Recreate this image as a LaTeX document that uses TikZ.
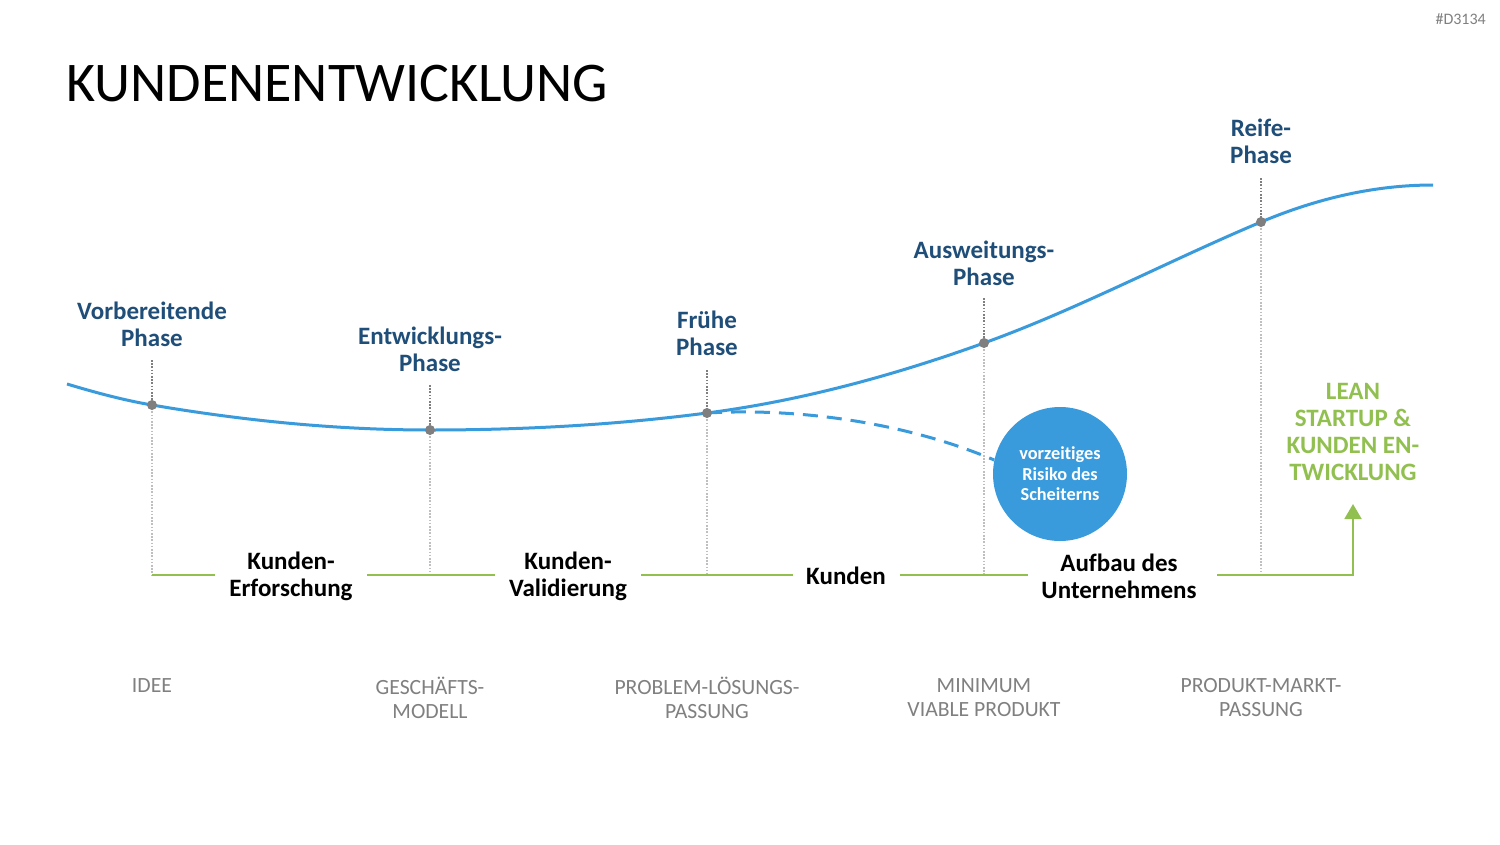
\documentclass[tikz,border=0pt]{standalone}
\usepackage{fontspec}
\setmainfont{Carlito}[Ligatures={NoCommon}]
\usetikzlibrary{arrows.meta}
\definecolor{curveblue}{HTML}{3A9BDC}
\definecolor{labelblue}{HTML}{1F4E79}
\definecolor{leangreen}{HTML}{92C050}
\definecolor{dotgray}{HTML}{7F7F7F}
\definecolor{lightgray}{HTML}{BFBFBF}
\definecolor{stagegray}{HTML}{808080}
\tikzset{
  phaselabel/.style={align=center, text=labelblue, font=\fontsize{25}{27}\selectfont\bfseries, inner sep=0pt},
  stagelabel/.style={align=center, text=black, font=\fontsize{25}{27}\selectfont\bfseries, inner sep=0pt},
  milestone/.style={align=center, text=stagegray, font=\fontsize{21.7}{24}\selectfont, inner sep=0pt},
  dotmark/.style={circle, fill=dotgray, inner sep=0pt, minimum size=10pt},
  upper/.style={dotgray, line width=1.6pt, dash pattern=on 1.6pt off 1.6pt},
  lower/.style={lightgray, line width=1.6pt, dash pattern=on 1.6pt off 1.6pt},
  greenline/.style={leangreen, line width=2pt},
  curveline/.style={curveblue, line width=3pt},
}
\begin{document}
\begin{tikzpicture}[x=1pt, y=-1pt]
\useasboundingbox (0,0) rectangle (1500,844);
\fill[white] (0,0) rectangle (1500,844);

% id and title
\node[anchor=east, text=stagegray, font=\fontsize{16}{18}\selectfont, inner sep=0pt] (id) at (1486,19) {\#D3134};
\node[anchor=base west, font=\fontsize{56}{62}\selectfont, inner sep=0pt] (title) at (66,101) {KUNDENENTWICKLUNG};

% milestone coordinates
\coordinate (p0) at (67,384);
\coordinate (p1) at (152,405);
\coordinate (p2) at (430,430);
\coordinate (p3) at (707,413);
\coordinate (p4) at (984,343);
\coordinate (p5) at (1261,222);
\coordinate (p6) at (1433,185);
\coordinate (b1) at (152,575);
\coordinate (b2) at (430,575);
\coordinate (b3) at (707,575);
\coordinate (b4) at (984,575);
\coordinate (b5) at (1261,575);
\coordinate (t1) at (152,360);
\coordinate (t2) at (430,385);
\coordinate (t3) at (707,370);
\coordinate (t4) at (984,298);
\coordinate (t5) at (1261,178);

% dotted verticals
\foreach \i in {1,...,5}{
  \draw[upper] (t\i) -- (p\i);
  \draw[lower] (p\i) -- (b\i);
}

% main curve
\draw[curveline] (p0) .. controls (95.3,392.5) and (123.7,400.2) .. (p1)
  .. controls (244.7,420.8) and (337.3,430) .. (p2)
  .. controls (522.3,430) and (614.7,425) .. (p3)
  .. controls (799.3,401) and (891.7,376.2) .. (p4)
  .. controls (1076.3,309.8) and (1168.7,260.8) .. (p5)
  .. controls (1318.3,197.9) and (1375.7,185) .. (p6);

% risk circle
\node[circle, fill=curveblue, minimum size=134pt, inner sep=0pt, align=center, text=white, font=\fontsize{18.3}{20.5}\selectfont\bfseries] (risk) at (1060,474) {vorzeitiges\\Risiko des\\Scheiterns};
\draw[curveline, dash pattern=on 15pt off 9pt] (p3) .. controls (790,408) and (900,420) .. (risk.168);

% dots
\foreach \i in {1,...,5}{
  \node[dotmark] (d\i) at (p\i) {};
}

% phase labels
\node[phaselabel] (l1) at (152,324) {Vorbereitende\\Phase};
\node[phaselabel] (l2) at (430,349) {Entwicklungs-\\Phase};
\node[phaselabel] (l3) at (707,333) {Frühe\\Phase};
\node[phaselabel] (l4) at (984,263) {Ausweitungs-\\Phase};
\node[phaselabel] (l5) at (1261,141) {Reife-\\Phase};

% stage labels
\node[stagelabel] (s1) at (291,576) {Kunden-\\Erforschung};
\node[stagelabel] (s2) at (568,576) {Kunden-\\Validierung};
\node[stagelabel] (s3) at (846,576) {Kunden};
\node[stagelabel] (s4) at (1119,576) {Aufbau des\\Unternehmens};

% green timeline
\coordinate (g0) at (152,575);
\coordinate (g1a) at (215,575);
\coordinate (g1b) at (367,575);
\coordinate (g2a) at (495,575);
\coordinate (g2b) at (641,575);
\coordinate (g3a) at (793,575);
\coordinate (g3b) at (900,575);
\coordinate (g4a) at (1028,575);
\coordinate (g4b) at (1217,575);
\coordinate (gc) at (1353,575);
\coordinate (gt) at (1353,504);
\draw[greenline] (g0) -- (g1a);
\draw[greenline] (g1b) -- (g2a);
\draw[greenline] (g2b) -- (g3a);
\draw[greenline] (g3b) -- (g4a);
\draw[greenline, -{Triangle[width=17pt,length=15pt]}] (g4b) -- (gc) -- (gt);

\node[align=center, text=leangreen, font=\fontsize{25}{27}\selectfont\bfseries, inner sep=0pt] (lean) at (1353,432) {LEAN\\STARTUP \&\\KUNDEN EN-\\TWICKLUNG};

% milestones
\node[milestone] (m1) at (152,686) {IDEE};
\node[milestone] (m2) at (430,698) {GESCHÄFTS-\\MODELL};
\node[milestone] (m3) at (707,698) {PROBLEM-LÖSUNGS-\\PASSUNG};
\node[milestone] (m4) at (984,698) {MINIMUM\\VIABLE PRODUKT};
\node[milestone] (m5) at (1261,698) {PRODUKT-MARKT-\\PASSUNG};
\end{tikzpicture}
\end{document}
